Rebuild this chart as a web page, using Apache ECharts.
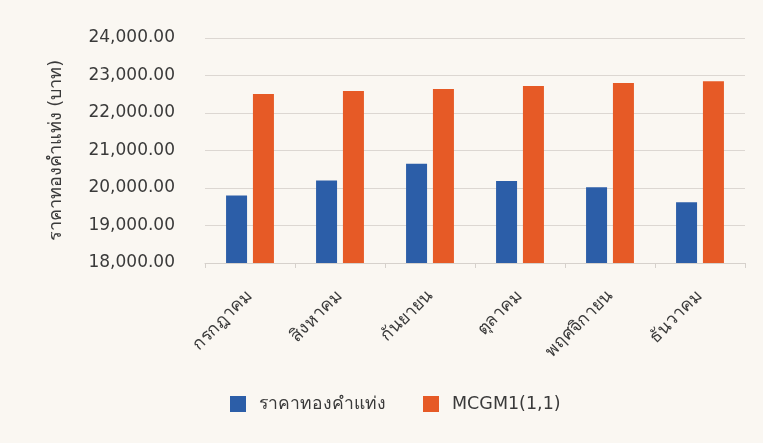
<!DOCTYPE html>
<html>
<head>
<meta charset="utf-8">
<script src="https://cdn.jsdelivr.net/npm/echarts@6/dist/echarts.min.js"></script>
<style>
  html, body { margin: 0; padding: 0; background: #faf7f2; }
  #chart { width: 763px; height: 443px; }
</style>
</head>
<body>
<div id="chart"></div>
<script>
// Monthly gold bar price vs. MCGM(1,1) forecast
const months = ['กรกฎาคม', 'สิงหาคม', 'กันยายน', 'ตุลาคม', 'พฤศจิกายน', 'ธันวาคม'];
const actualPrice = [19800, 20200, 20650, 20190, 20020, 19620];
const mcgmForecast = [22510, 22590, 22640, 22720, 22800, 22850];
const seriesNames = ['ราคาทองคำแท่ง', 'MCGM1(1,1)'];
const yAxisTitle = 'ราคาทองคำแท่ง (บาท)';

const textFont = '"DejaVu Sans", "Noto Sans", sans-serif';
const chart = echarts.init(document.getElementById('chart'));

chart.setOption({
  backgroundColor: '#faf7f2',
  animation: false,
  grid: { left: 205, right: 18, top: 38, bottom: 180, containLabel: false },
  legend: {
    data: seriesNames,
    bottom: 25,
    left: 225,
    itemWidth: 16,
    itemHeight: 16,
    itemGap: 37,
    icon: 'rect',
    textStyle: {
      fontFamily: textFont,
      fontSize: 17.5,
      color: '#3a3a3a',
      padding: [0, 0, 0, 8]
    }
  },
  xAxis: {
    type: 'category',
    data: months,
    axisLine: { lineStyle: { color: '#d6d1cc' } },
    axisTick: { show: true, length: 5, lineStyle: { color: '#d6d1cc' } },
    axisLabel: {
      rotate: 45,
      interval: 0,
      margin: 30,
      fontFamily: textFont,
      fontSize: 17.5,
      color: '#3a3a3a'
    }
  },
  yAxis: {
    type: 'value',
    min: 18000,
    max: 24000,
    interval: 1000,
    name: yAxisTitle,
    nameLocation: 'middle',
    nameGap: 140,
    nameRotate: 90,
    nameTextStyle: { fontFamily: textFont, fontSize: 18, color: '#3a3a3a' },
    axisLine: { show: false },
    axisTick: { show: false },
    splitLine: { lineStyle: { color: '#dcd7d2' } },
    axisLabel: {
      margin: 30,
      fontFamily: textFont,
      fontSize: 17,
      color: '#3a3a3a',
      formatter: v => v.toLocaleString('en-US', { minimumFractionDigits: 2, maximumFractionDigits: 2 })
    }
  },
  series: [
    {
      name: seriesNames[0],
      type: 'bar',
      data: actualPrice,
      barWidth: 21,
      barGap: '28%',
      itemStyle: { color: '#2c5ea8' }
    },
    {
      name: seriesNames[1],
      type: 'bar',
      data: mcgmForecast,
      barWidth: 21,
      barGap: '28%',
      itemStyle: { color: '#e65a26' }
    }
  ]
});
</script>
</body>
</html>
